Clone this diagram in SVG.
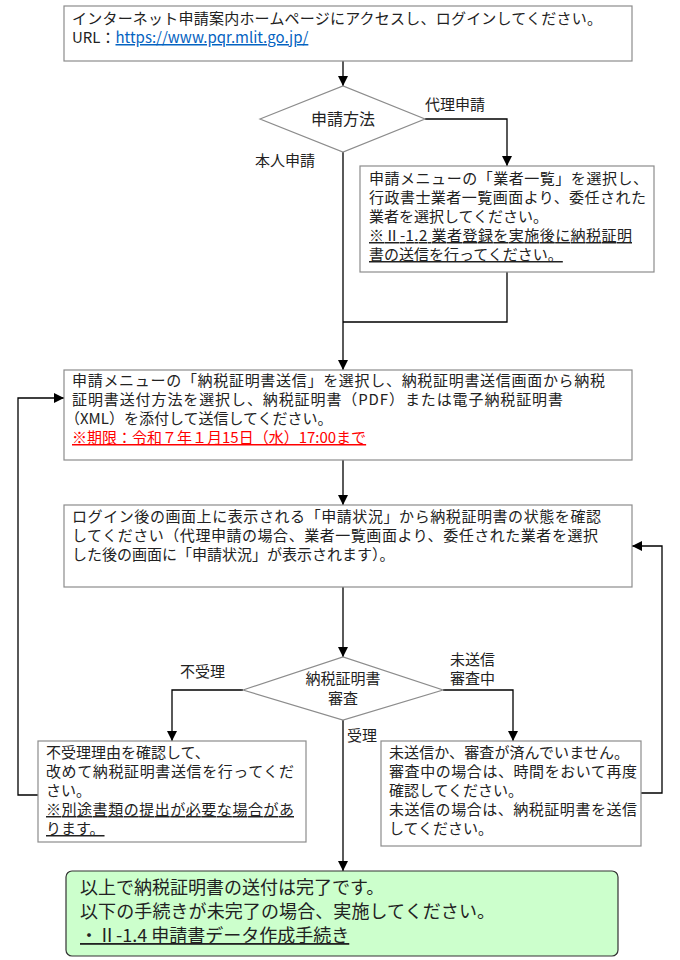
<svg xmlns="http://www.w3.org/2000/svg" width="680" height="960" viewBox="0 0 680 960">
<style>
text{font-family:"Noto Sans CJK JP","Noto Sans",sans-serif;font-size:15px;fill:#222}
.box{fill:#fff;stroke:#8c8c8c;stroke-width:1.2}
.dia{fill:#fff;stroke:#8c8c8c;stroke-width:1.2}
.con{fill:none;stroke:#000;stroke-width:1.3}
.u{text-decoration:underline}
.link{fill:#0563C1;text-decoration:underline}
.red{fill:#ff0000;text-decoration:underline}
.big{font-size:18px}
.mid{text-anchor:middle}
</style>
<defs>
<marker id="ah" markerUnits="userSpaceOnUse" markerWidth="10" markerHeight="10" refX="10" refY="5" orient="auto" viewBox="0 0 10 10">
<path d="M0,0 L10,5 L0,10 z" fill="#000"/>
</marker>
</defs>
<rect width="680" height="960" fill="#fff"/>

<g id="connectors">
<path class="con" d="M343,61 V86" marker-end="url(#ah)"/>
<path class="con" d="M425,119 H507 V166" marker-end="url(#ah)"/>
<path class="con" d="M343,152 V370" marker-end="url(#ah)"/>
<path class="con" d="M507,272 V322 H343"/>
<path class="con" d="M343,460 V505" marker-end="url(#ah)"/>
<path class="con" d="M343,587 V657" marker-end="url(#ah)"/>
<path class="con" d="M243,690 H172 V741" marker-end="url(#ah)"/>
<path class="con" d="M443,690 H513 V741" marker-end="url(#ah)"/>
<path class="con" d="M343,720 V871" marker-end="url(#ah)"/>
<path class="con" d="M38,795 H18 V398 H64" marker-end="url(#ah)"/>
<path class="con" d="M641,793 H662 V546 H632" marker-end="url(#ah)"/>
<text x="425" y="110">代理申請</text>
<text x="255" y="166">本人申請</text>
<text x="180" y="677">不受理</text>
<text x="450" y="665">未送信</text>
<text x="450" y="684">審査中</text>
<text x="347" y="741">受理</text>
</g>

<g id="login">
<rect class="box" x="64" y="6" width="568" height="55"/>
<text x="72" y="24" textLength="530">インターネット申請案内ホームページにアクセスし、ログインしてください。</text>
<text x="72" y="43">URL：<tspan class="link">https://www.pqr.mlit.go.jp/</tspan></text>
</g>

<g id="method">
<polygon class="dia" points="260,119 343,86 425,119 343,152"/>
<text class="mid" x="343" y="125" style="font-size:16px">申請方法</text>
</g>

<g id="agent">
<rect class="box" x="360" y="166" width="294" height="106"/>
<text x="369" y="184" textLength="279">申請メニューの「業者一覧」を選択し、</text>
<text x="369" y="203" textLength="277">行政書士業者一覧画面より、委任された</text>
<text x="369" y="222">業者を選択してください。</text>
<text x="369" y="241" class="u" textLength="263">※Ⅱ-1.2 業者登録を実施後に納税証明</text>
<text x="369" y="260" class="u">書の送信を行ってください。</text>
</g>

<g id="send">
<rect class="box" x="64" y="370" width="568" height="90"/>
<text x="72" y="386" textLength="533">申請メニューの「納税証明書送信」を選択し、納税証明書送信画面から納税</text>
<text x="72" y="405" textLength="491">証明書送付方法を選択し、納税証明書（PDF）または電子納税証明書</text>
<text x="65" y="424">（XML）を添付して送信してください。</text>
<text x="72" y="443" class="red">※期限：令和７年１月15日（水）17:00まで</text>
</g>

<g id="status">
<rect class="box" x="64" y="505" width="568" height="82"/>
<text x="72" y="522" textLength="529">ログイン後の画面上に表示される「申請状況」から納税証明書の状態を確認</text>
<text x="72" y="541" textLength="526">してください（代理申請の場合、業者一覧画面より、委任された業者を選択</text>
<text x="72" y="560">した後の画面に「申請状況」が表示されます）。</text>
</g>

<g id="review">
<polygon class="dia" points="243,690 343,657 443,690 343,720"/>
<text class="mid" x="343" y="684">納税証明書</text>
<text class="mid" x="343" y="704">審査</text>
</g>

<g id="rejected">
<rect class="box" x="38" y="741" width="268" height="101"/>
<text x="46" y="758">不受理理由を確認して、</text>
<text x="46" y="777" textLength="248">改めて納税証明書送信を行ってくだ</text>
<text x="46" y="796">さい。</text>
<text x="46" y="815" class="u" textLength="248">※別途書類の提出が必要な場合があ</text>
<text x="46" y="834" class="u">ります。</text>
</g>

<g id="pending">
<rect class="box" x="381" y="741" width="260" height="105"/>
<text x="389" y="758" textLength="240">未送信か、審査が済んでいません。</text>
<text x="389" y="777" textLength="248">審査中の場合は、時間をおいて再度</text>
<text x="389" y="796">確認してください。</text>
<text x="389" y="815" textLength="248">未送信の場合は、納税証明書を送信</text>
<text x="389" y="834">してください。</text>
</g>

<g id="done">
<rect x="66" y="871" width="552" height="85" rx="6" fill="#ccffcc" stroke="#333" stroke-width="1.2"/>
<text x="80" y="894" class="big">以上で納税証明書の送付は完了です。</text>
<text x="80" y="918" class="big" textLength="415">以下の手続きが未完了の場合、実施してください。</text>
<text x="80" y="942" class="big u">・Ⅱ-1.4 申請書データ作成手続き</text>
</g>
</svg>
